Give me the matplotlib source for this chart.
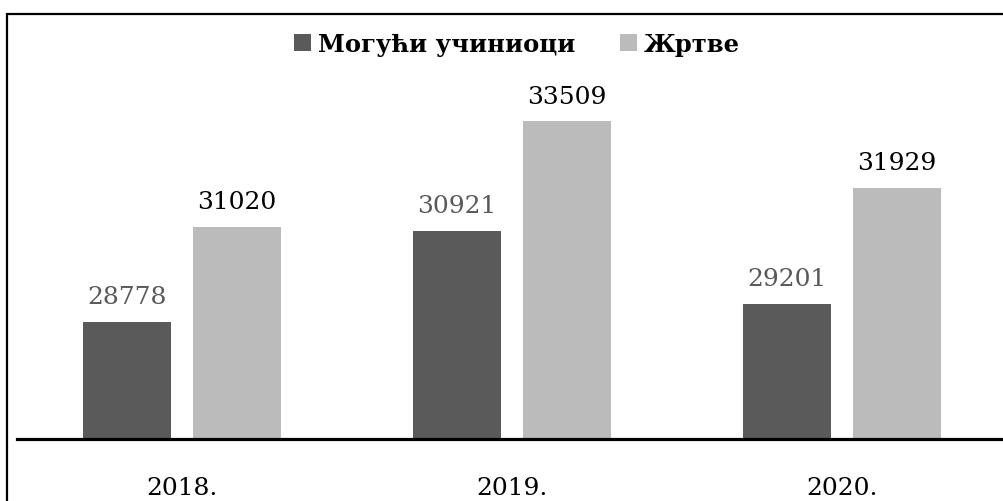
import numpy as np
import matplotlib
matplotlib.use('Agg')
import matplotlib.pyplot as plt
from matplotlib.patches import Rectangle

# подаци
years = ['2018.', '2019.', '2020.']
perpetrators = [28778, 30921, 29201]
victims = [31020, 33509, 31929]
series_names = ['Могући учиниоци', 'Жртве']

plt.rcParams['font.family'] = ['DejaVu Serif']

fig = plt.figure(figsize=(10.04, 5.02), dpi=100)
ax = fig.add_axes([17 / 1004, 62 / 502, 990 / 1004, 425 / 502])

x = np.arange(len(years))
w = 0.267
off = 0.1667
b1 = ax.bar(x - off, perpetrators, w, color='#5a5a5a', label=series_names[0])
b2 = ax.bar(x + off, victims, w, color='#bbbbbb', label=series_names[1])

ax.bar_label(b1, padding=10, fontsize=18, color='#595959')
ax.bar_label(b2, padding=10, fontsize=18, color='black')

ax.set_ylim(26000, 36050)
ax.set_xlim(-0.5, 2.5)
ax.set_yticks([])
ax.set_xticks(x)
ax.set_xticklabels(years, fontsize=18)
ax.tick_params(axis='x', length=0, pad=27)
for s in ['top', 'right', 'left']:
    ax.spines[s].set_visible(False)
ax.spines['bottom'].set_linewidth(2.3)
ax.spines['bottom'].set_color('black')

leg = ax.legend(loc='center', bbox_to_anchor=(517 / 1004, 1 - 45 / 502),
                bbox_transform=fig.transFigure, ncol=2, frameon=False,
                prop={'weight': 'bold', 'size': 17.5}, handlelength=0.7,
                handleheight=0.7, handletextpad=0.3, columnspacing=1.8)

# рамка
fig.patches.append(Rectangle((7.5 / 1004, -0.1), 1.2, (502 - 15) / 502 + 0.1,
                             transform=fig.transFigure, fill=False,
                             edgecolor='black', linewidth=1.6, clip_on=False))

fig.savefig('out.png', dpi=100)
